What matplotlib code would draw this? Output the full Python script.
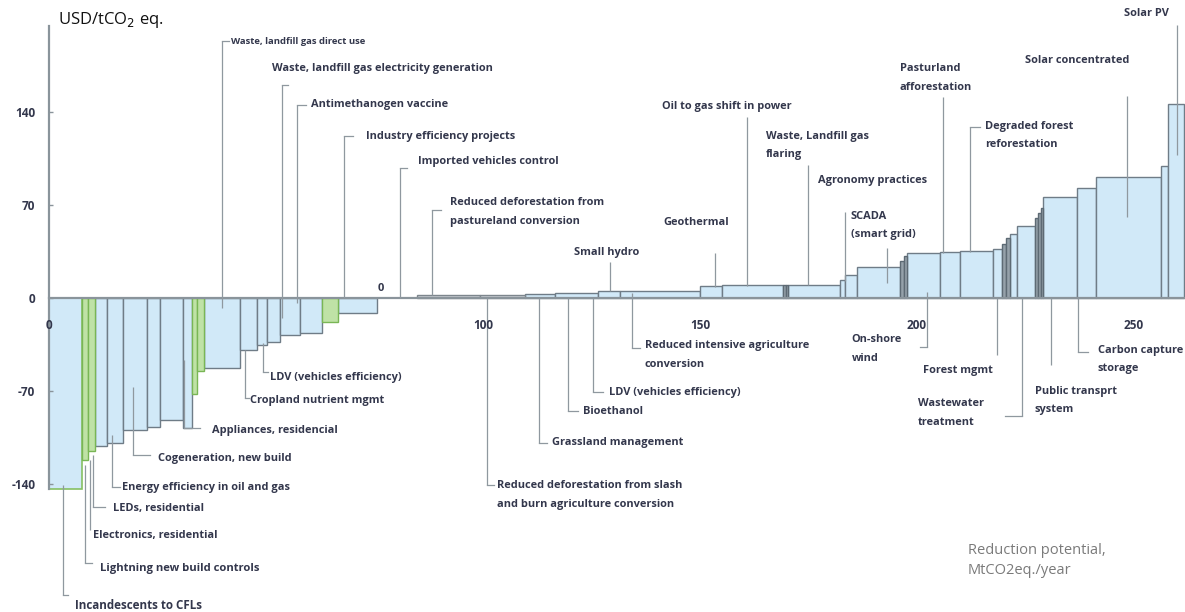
import matplotlib
matplotlib.use("Agg")
import matplotlib.pyplot as plt
import numpy as np

# ---------------- data ----------------
# bar widths (MtCO2eq./year) and costs (USD/tCO2 eq.) in curve order
widths = [7.6, 1.4, 1.6, 2.8, 3.7, 5.5, 3.0, 5.3, 2.1, 1.2, 1.4, 8.5, 3.9, 2.3, 3.0,
          4.6, 5.1, 3.5, 9.2, 9.2,
          14.5, 10.4, 6.9, 9.9, 5.1, 18.4, 5.1, 14.0, 0.6, 0.6, 12.0, 1.1, 2.8, 9.9,
          0.8, 0.8, 7.6, 4.6, 7.6, 2.1, 0.9, 0.9, 1.6, 4.2, 0.6, 0.6, 0.5, 7.8, 4.6,
          14.8, 1.6, 3.7]
costs = [-144, -122, -115, -111, -109, -99, -97, -92, -98, -72, -55, -53, -39, -35, -33,
         -28, -26, -18, -11, 0,
         2.3, 2.5, 3, 4, 5, 5.5, 9, 9.5, 10, 10, 10, 13.5, 17, 23,
         28, 32, 34, 35, 35.5, 37, 41, 45, 48, 54, 60, 64, 68, 76, 83,
         91, 99, 146]
# b = blue, e = blue with green outline, g = green, d = dark narrow, s = grey, z = empty
kinds = ["e", "g", "g", "b", "b", "b", "b", "b", "b", "g", "g", "b", "b", "b", "b",
         "b", "b", "g", "b", "z",
         "s", "s", "b", "b", "b", "b", "b", "b", "d", "d", "b", "b", "b", "b",
         "d", "d", "b", "b", "b", "b", "d", "d", "b", "b", "d", "d", "d", "b", "b",
         "b", "b", "b"]

x_ticks = [0, 100, 150, 200, 250]
x_tick_labels = ["0", "100", "150", "200", "250"]
y_ticks = [-140, -70, 0, 70, 140]
y_tick_labels = ["-140", "-70", "0", "70", "140"]

# annotations: text, text x, text y, leader x, leader y0, leader y1, hook end x, hook y, font size
labels = [
    ("Waste, landfill gas direct use", 41.9, 193.4, 39.9, 193.4, -7.5, 41.5, 193.4, 6.8),
    ("Waste, landfill gas electricity generation", 51.4, 173.1, 53.7, 160.3, -15, 55.1, 160.3, 7.9),
    ("Antimethanogen vaccine", 60.4, 145.3, 57.1, 145.3, -3.8, 59.2, 145.3, 7.9),
    ("Industry efficiency projects", 73.0, 121.9, 68.0, 121.9, 0, 70.0, 121.9, 7.9),
    ("Imported vehicles control", 85.0, 103.1, 80.9, 97.8, 0, 82.5, 97.8, 7.9),
    ("Reduced deforestation from\npastureland conversion", 92.4, 64.7, 88.2, 66.2, 2.3, 90.3, 66.2, 7.9),
    ("Small hydro", 121.0, 34.6, 129.3, 27.1, 5.3, None, None, 7.9),
    ("Geothermal", 141.5, 56.5, 153.5, 33.9, 8.3, None, None, 7.9),
    ("Oil to gas shift in power", 141.2, 143.8, 160.8, 136.2, 9.0, None, None, 7.9),
    ("Waste, Landfill gas\nflaring", 165.2, 114.8, 174.9, 100.1, 9.8, None, None, 7.9),
    ("Agronomy practices", 177.2, 88.1, 183.4, 64.7, 12.8, None, None, 7.9),
    ("SCADA\n(smart grid)", 184.8, 54.6, 193.1, 37.6, 11.3, None, None, 7.9),
    ("Pasturland\nafforestation", 196.1, 165.6, 206.0, 151.3, 33.9, None, None, 7.9),
    ("Degraded forest\nreforestation", 215.7, 122.3, 212.2, 128.7, 34.6, 214.5, 128.7, 7.9),
    ("Solar concentrated", 224.9, 179.1, 248.4, 152.0, 61.0, None, None, 7.9),
    ("Solar PV", 247.7, 214.5, 259.9, 205.5, 107.6, None, None, 7.9),
    ("On-shore\nwind", 185.0, -38.4, 202.3, 4.5, -36.9, 200.7, -36.9, 7.9),
    ("Forest mgmt", 201.4, -54.2, 218.4, 0, -42.9, None, None, 7.9),
    ("Wastewater\ntreatment", 200.2, -86.6, 224.2, 0, -88.8, 220.3, -88.8, 7.9),
    ("Public transprt\nsystem", 227.2, -77.2, 230.9, 0, -50.4, None, None, 7.9),
    ("Carbon capture\nstorage", 241.7, -46.3, 237.1, 0, -40.6, 239.4, -40.6, 7.9),
    ("Reduced intensive agriculture\nconversion", 137.3, -42.9, 134.3, 3.8, -37.6, 136.2, -37.6, 7.9),
    ("LDV (vehicles efficiency)", 129.0, -70.8, 125.3, 0, -70.8, 127.6, -70.8, 7.9),
    ("Bioethanol", 123.0, -85.1, 119.6, 0, -85.1, 121.9, -85.1, 7.9),
    ("Grassland management", 115.9, -109.1, 112.9, 0, -109.1, 114.7, -109.1, 7.9),
    ("Reduced deforestation from slash\nand burn agriculture conversion", 103.2, -148.3, 100.9, 0, -140.8, 102.5, -140.8, 7.9),
    ("LDV (vehicles efficiency)", 50.9, -59.5, 49.3, -33.9, -55.7, 50.5, -55.7, 7.9),
    ("Cropland nutrient mgmt", 46.3, -76.8, 45.2, -39.1, -75.3, 46.1, -75.3, 7.9),
    ("Appliances, residencial", 37.6, -99.4, 31.1, -46.7, -97.8, 34.8, -97.8, 7.9),
    ("Cogeneration, new build", 25.1, -120.4, 19.4, -67.0, -118.2, 23.3, -118.2, 7.9),
    ("Energy efficiency in oil and gas", 16.8, -142.3, 14.5, -103.1, -142.3, 16.4, -142.3, 7.9),
    ("LEDs, residential", 14.7, -158.1, 10.1, -118.2, -157.3, 12.9, -157.3, 7.9),
    ("Electronics, residential", 10.1, -178.4, 9.4, -121.9, -174.6, None, None, 7.9),
    ("Lightning new build controls", 11.8, -203.2, 8.3, -125.7, -199.5, 9.9, -199.5, 8.1),
    ("Incandescents to CFLs", 6.0, -231.1, 3.2, -140.8, -223.5, 4.4, -223.5, 8.4),
]

# ---------------- plot ----------------
FONT = "Open Sans"
TXT = "#33374c"
LEAD = "#8f989f"

fig = plt.figure(figsize=(11.85, 6.12), dpi=100)
ax = fig.add_axes([0, 0, 1, 1])
ax.set_xlim(-11.3, 261.8)
ax.set_ylim(-236.3, 224.3)

widths_a = np.array(widths)
costs_a = np.array(costs)
kinds_a = np.array(kinds)
lefts = np.concatenate([[0.0], np.cumsum(widths_a)[:-1]])

styles = {
    "b": dict(color="#d1e9f8", edgecolor="#6f7c87", linewidth=1.0),
    "e": dict(color="#d1e9f8", edgecolor="#86c062", linewidth=1.2),
    "g": dict(color="#bfe2a6", edgecolor="#79b655", linewidth=1.0),
    "d": dict(color="#95a1aa", edgecolor="#5d6a74", linewidth=1.0),
    "s": dict(color="#c9ced3", edgecolor="#7d868d", linewidth=1.0),
}
for k, st in styles.items():
    m = kinds_a == k
    if m.any():
        ax.bar(lefts[m], costs_a[m], width=widths_a[m], align="edge", zorder=2, **st)

# axes
for s in ["top", "right"]:
    ax.spines[s].set_visible(False)
ax.spines["left"].set_position(("data", 0))
ax.spines["bottom"].set_position(("data", 0))
ax.spines["left"].set_bounds(-144, 205)
ax.spines["bottom"].set_bounds(0, 261.8)
for s in ["left", "bottom"]:
    ax.spines[s].set_color("#8a949b")
    ax.spines[s].set_linewidth(1.6)
    ax.spines[s].set_zorder(3)

ax.set_xticks(x_ticks)
ax.set_xticklabels(x_tick_labels, fontfamily=FONT, fontweight="bold", fontsize=8.5, color=TXT)
ax.tick_params(axis="x", length=0, pad=15)
ax.set_yticks(y_ticks)
ax.set_yticklabels(y_tick_labels, fontfamily=FONT, fontweight="bold", fontsize=8.5, color=TXT)
ax.tick_params(axis="y", direction="in", length=3, width=1, color="#8a949b", pad=10)
ax.xaxis.set_zorder(6)
ax.yaxis.set_zorder(6)

# leaders and labels
for text, tx, ty, lx, ly0, ly1, hx, hy, fs in labels:
    ax.plot([lx, lx], [ly0, ly1], color=LEAD, lw=0.9, zorder=4, solid_capstyle="butt")
    if hx is not None:
        ax.plot([lx, hx], [hy, hy], color=LEAD, lw=0.9, zorder=4)
    ax.text(tx, ty, text, fontfamily=FONT, fontweight="bold", fontsize=fs,
            color=TXT, ha="left", va="center", linespacing=1.95, zorder=5)

ax.text(76.5, 7.5, "0", fontfamily=FONT, fontweight="bold", fontsize=8, color=TXT,
        ha="center", va="center")
ax.text(2.1, 209.2, "USD/tCO$_2$ eq.", fontfamily=FONT, fontsize=12, color="#111111",
        ha="left", va="center")
ax.text(211.8, -197.6, "Reduction potential,\nMtCO2eq./year", fontfamily=FONT, fontsize=10.5,
        color="#7a7a7a", ha="left", va="center", linespacing=1.45)

fig.savefig("out.png", dpi=100)
